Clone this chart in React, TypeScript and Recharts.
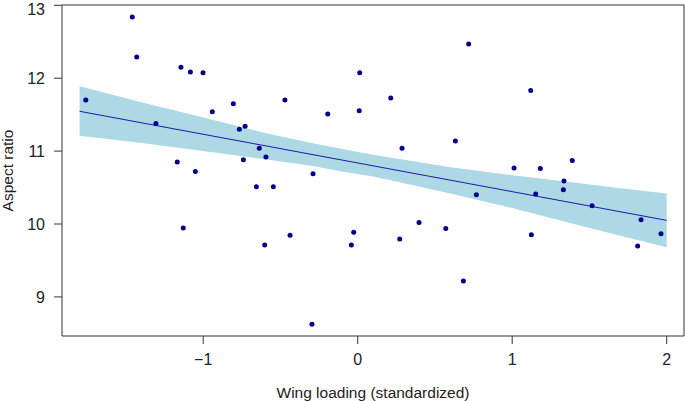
import { Area, ComposedChart, Line, ReferenceArea, Scatter, XAxis, YAxis } from "recharts";

// species values
const wingLoading = [
    -1.760, -1.459, -1.430, -1.306, -1.144, -1.083, -1.001, -0.941, -0.805, -0.766,
    -1.168, -1.051, -1.129, -0.729, -0.637, -0.594, -0.740, -0.656, -0.546, -0.471,
    -0.289, -0.194, 0.013, 0.010, 0.214, 0.287, 0.632, -0.602, -0.438, -0.296,
    -0.026, -0.041, 0.272, 0.397, 0.570, 0.718, 1.120, 1.012, 1.182, 1.389,
    1.335, 1.331, 0.768, 1.152, 1.517, 1.834, 1.963, 1.812, 1.124, 0.684,
];
const aspectRatio = [
    11.70, 12.84, 12.29, 11.38, 12.15, 12.085, 12.075, 11.54, 11.65, 11.30,
    10.85, 10.72, 9.945, 11.34, 11.04, 10.92, 10.88, 10.51, 10.51, 11.70,
    10.69, 11.51, 12.075, 11.555, 11.73, 11.04, 11.14, 9.712, 9.845, 8.624,
    9.886, 9.712, 9.794, 10.02, 9.94, 12.47, 11.83, 10.77, 10.76, 10.87,
    10.59, 10.47, 10.40, 10.41, 10.25, 10.06, 9.867, 9.70, 9.853, 9.22,
];

// fitted line and its confidence band
const fitX = [-1.8, 2.0];
const fitY = [11.546, 10.05];
const bandX = [-1.8, -1.4, -1.0, -0.6, -0.3, -0.1, 0.1, 0.3, 0.6, 1.0, 1.4, 1.7, 2.0];
const bandLower = [11.21, 11.11, 11.00, 10.89, 10.80, 10.72, 10.65, 10.56, 10.42, 10.22, 10.00, 9.84, 9.68];
const bandUpper = [11.89, 11.67, 11.46, 11.25, 11.11, 11.03, 10.95, 10.88, 10.78, 10.67, 10.57, 10.49, 10.42];

const xTicks = [-1, 0, 1, 2];
const yTicks = [9, 10, 11, 12, 13];

const X_MIN = -1.914, X_MAX = 2.112;
const Y_MIN = 8.464, Y_MAX = 13.004;

const points = wingLoading.map((x, i) => ({ x, y: aspectRatio[i] }));
const fit = fitX.map((x, i) => ({ x, y: fitY[i] }));
const band = bandX.map((x, i) => ({ x, band: [bandLower[i], bandUpper[i]] }));

const FONT = "'Liberation Sans', Arial, sans-serif";
const INK = "#333333";
const tickStyle = { fill: "#222222", fontSize: 16, fontFamily: FONT };

const minus = (v: number) => (v < 0 ? "\u2212" + Math.abs(v) : String(v));

const Dot = (props: any) => <circle cx={props.cx} cy={props.cy} r={2.5} fill="#00008b" />;

export default function App() {
    return (
        <div style={{ position: "absolute", left: 0, top: 0, background: "#fff" }}>
            <ComposedChart width={685} height={401} margin={{ top: 5, right: 1, left: 0, bottom: 0 }}>
                <XAxis
                    type="number"
                    dataKey="x"
                    domain={[X_MIN, X_MAX]}
                    ticks={xTicks}
                    allowDataOverflow
                    tickFormatter={minus}
                    height={65}
                    tickSize={8}
                    tickMargin={10}
                    axisLine={false}
                    tickLine={{ stroke: INK }}
                    tick={tickStyle}
                    label={{ value: "Wing loading (standardized)", position: "insideBottom", offset: 3, style: { fill: "#222222", fontSize: 15.5, fontFamily: FONT } }}
                />
                <YAxis
                    type="number"
                    domain={[Y_MIN, Y_MAX]}
                    ticks={yTicks}
                    allowDataOverflow
                    width={62}
                    tickSize={8}
                    tickMargin={9}
                    axisLine={false}
                    tickLine={{ stroke: INK }}
                    tick={tickStyle}
                    label={{ value: "Aspect ratio", angle: -90, position: "insideLeft", offset: 7, style: { textAnchor: "middle", fill: "#222222", fontSize: 15.5, fontFamily: FONT } }}
                />
                <Area
                    data={band}
                    dataKey="band"
                    type="linear"
                    stroke="none"
                    fill="#add8e6"
                    fillOpacity={1}
                    isAnimationActive={false}
                />
                <Line
                    data={fit}
                    dataKey="y"
                    type="linear"
                    stroke="#1c1ca8"
                    strokeWidth={1}
                    dot={false}
                    activeDot={false}
                    isAnimationActive={false}
                />
                <Scatter data={points} dataKey="y" shape={Dot} isAnimationActive={false} />
                <ReferenceArea x1={X_MIN} x2={X_MAX} y1={Y_MIN} y2={Y_MAX} fill="none" stroke={INK} strokeWidth={1} ifOverflow="visible" />
            </ComposedChart>
        </div>
    );
}
